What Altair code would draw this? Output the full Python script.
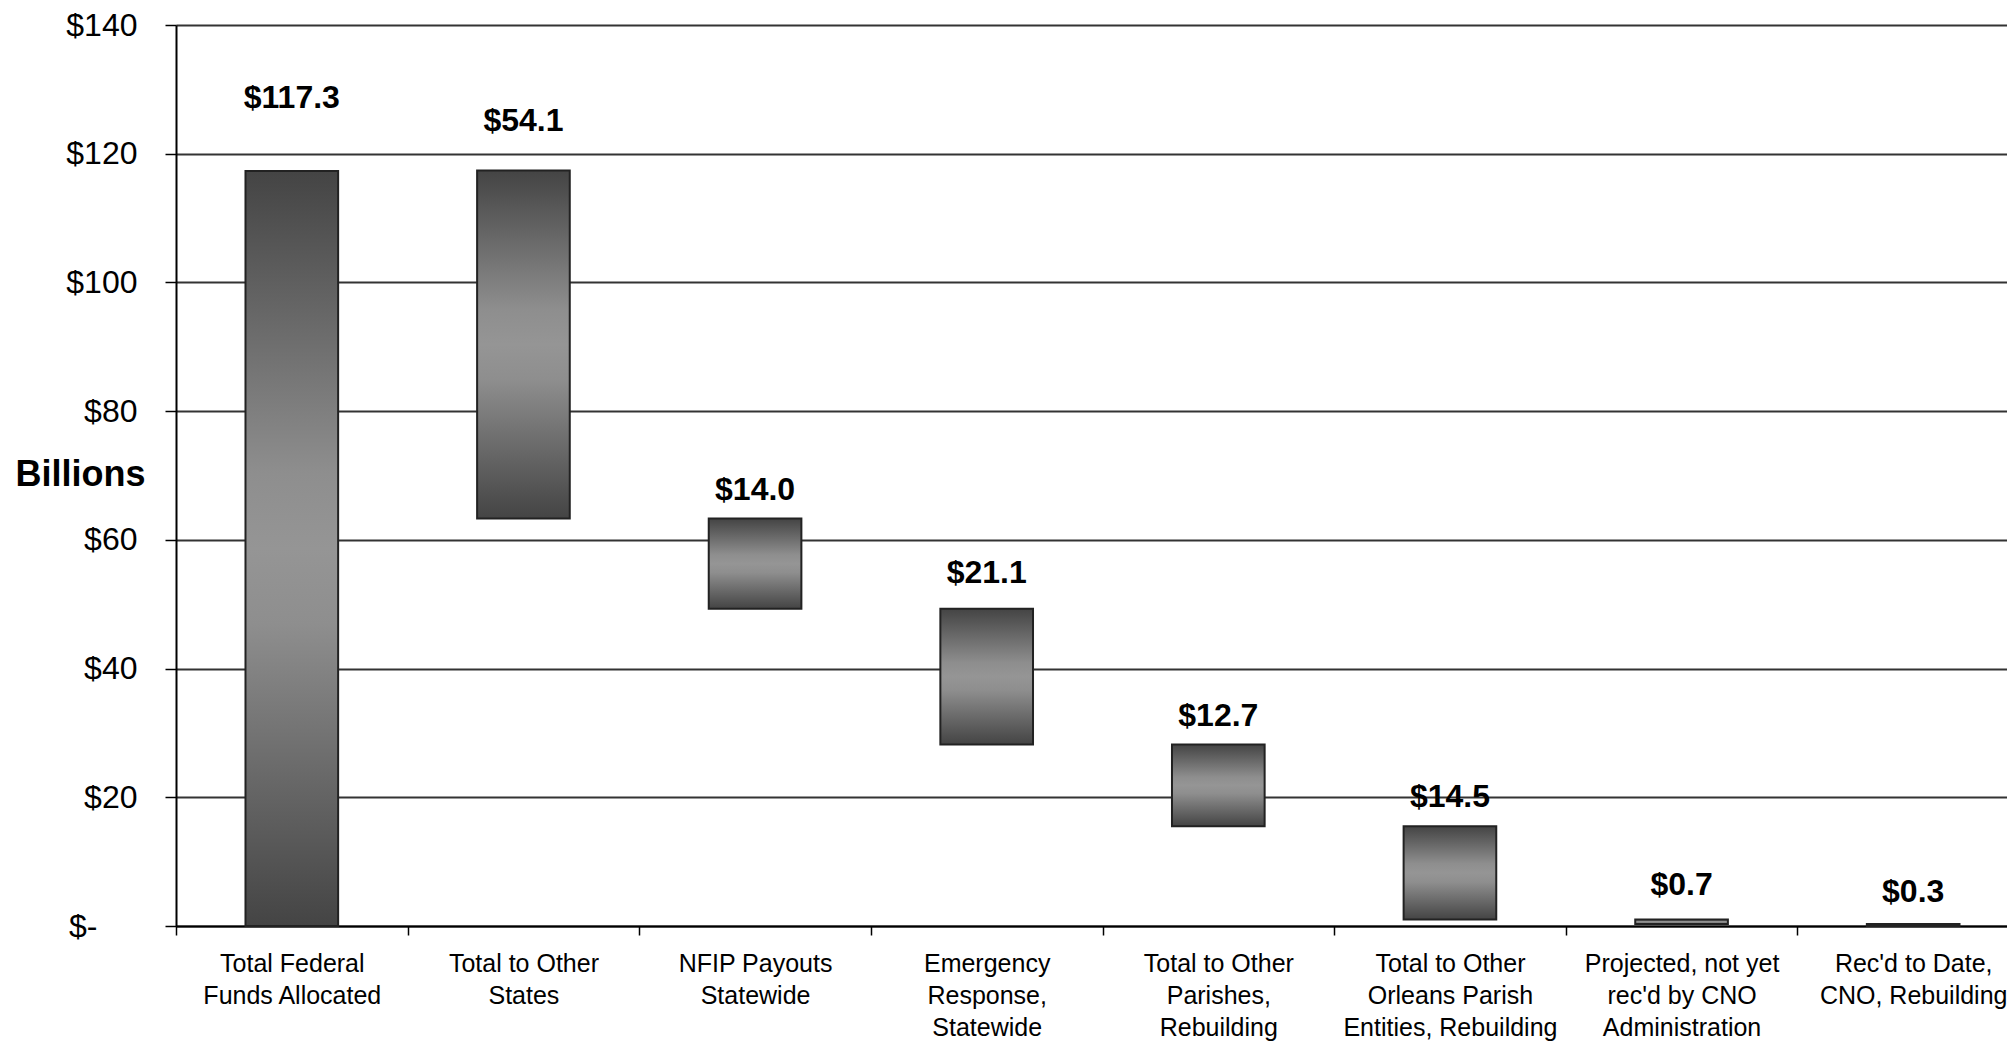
import altair as alt
import pandas as pd

categories = [
    "Total Federal|Funds Allocated",
    "Total to Other|States",
    "NFIP Payouts|Statewide",
    "Emergency|Response,|Statewide",
    "Total to Other|Parishes,|Rebuilding",
    "Total to Other|Orleans Parish|Entities, Rebuilding",
    "Projected, not yet|rec'd by CNO|Administration",
    "Rec'd to Date,|CNO, Rebuilding",
]
values = [117.3, 54.1, 14.0, 21.1, 12.7, 14.5, 0.7, 0.3]
y_ticks = [0, 20, 40, 60, 80, 100, 120, 140]

# waterfall: first bar is the total, the rest stack downward to zero
rows = []
for i, (c, v) in enumerate(zip(categories, values)):
    base = 0.0 if i == 0 else round(sum(values[i + 1:]), 1)
    rows.append({"cat": c, "lo": base, "hi": base + v, "label": f"${v:.1f}", "idx": i})
df = pd.DataFrame(rows)

# label offsets above each bar top (style only)
label_dy = [-73, -49, -29, -36, -29, -29, -35, -32]

FONT = "Liberation Sans"
PLOT_W = 1831
PLOT_H = 901
X_RANGE = 1853

x_enc = alt.X(
    "cat:N",
    sort=categories,
    scale=alt.Scale(paddingInner=0, paddingOuter=0, range=[0, X_RANGE]),
    axis=alt.Axis(
        title=None,
        labelExpr="split(datum.label, '|')",
        labelAngle=0,
        labelFont=FONT,
        labelFontSize=25,
        labelColor="#000",
        labelLineHeight=32,
        labelPadding=16,
        labelBaseline="top",
        labelLimit=1000,
        labelOverlap=False,
        tickBand="extent",
        tickSize=9,
        tickColor="#000",
        tickWidth=1.5,
        domainColor="#000",
        domainWidth=2,
        grid=False,
    ),
)

bars = alt.Chart(df).mark_bar(
    width={"band": 0.40},
    stroke="#222",
    strokeWidth=2,
    color=alt.Gradient(
        gradient="linear",
        x1=0, y1=0, x2=0, y2=1,
        stops=[
            alt.GradientStop(color="#444444", offset=0),
            alt.GradientStop(color="#8e8e8e", offset=0.4),
            alt.GradientStop(color="#959595", offset=0.5),
            alt.GradientStop(color="#8e8e8e", offset=0.6),
            alt.GradientStop(color="#444444", offset=1),
        ],
    ),
).encode(
    x=x_enc,
    y=alt.Y(
        "lo:Q",
        scale=alt.Scale(domain=[0, 140], nice=False, zero=True),
        axis=alt.Axis(
            values=y_ticks,
            title="Billions",
            titleAngle=0,
            titleFont=FONT,
            titleFontSize=36,
            titleFontWeight="bold",
            titleColor="#000",
            titleAlign="center",
            titleBaseline="middle",
            titleX=-96,
            titleY=449,
            labelExpr="datum.value == 0 ? '$-' : '$' + datum.value",
            labelFont=FONT,
            labelFontSize=32,
            labelColor="#000",
            labelPadding={"condition": {"test": "datum.value === 0", "value": 68}, "value": 28},
            tickSize=11,
            tickColor="#000",
            tickWidth=1.5,
            domainColor="#000",
            domainWidth=2,
            grid=True,
            gridColor="#333",
            gridWidth=2,
        ),
    ),
    y2="hi:Q",
)

texts = []
for i, dy in enumerate(label_dy):
    texts.append(
        alt.Chart(df).transform_filter(alt.datum.idx == i).mark_text(
            font=FONT, fontSize=32, fontWeight="bold", color="#000",
            baseline="middle", align="center", dy=dy,
        ).encode(x=alt.X("cat:N", sort=categories), y="hi:Q", text="label:N")
    )

chart = alt.layer(bars, *texts).properties(
    width=PLOT_W,
    height=PLOT_H,
    autosize=alt.AutoSizeParams(type="none"),
    padding={"left": 168, "top": 17, "right": 0, "bottom": 115},
).configure_view(stroke=None).configure(background="white")

chart.save("out.html", embed_options={"renderer": "svg", "actions": False})
